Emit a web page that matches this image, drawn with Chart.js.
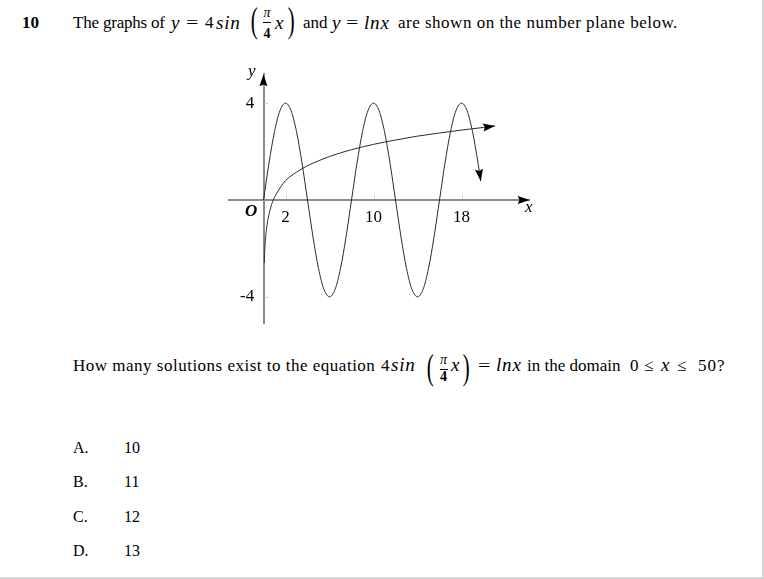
<!DOCTYPE html>
<html><head><meta charset="utf-8">
<script src="https://cdn.jsdelivr.net/npm/chart.js@4.4.1/dist/chart.umd.min.js"></script>
<style>
html,body{margin:0;padding:0;background:#fff;}
#page{position:relative;width:762px;height:577px;border-right:2px solid #d6d6d6;border-bottom:2px solid #d6d6d6;overflow:hidden;font-family:'Liberation Serif','Times New Roman',serif;color:#000;}
#page div{position:absolute;white-space:nowrap;}
.t{font-size:17px;line-height:20px;}
.s{letter-spacing:0.5px;}
.a{font-size:16px;line-height:20px;}
.m{font-size:19px;line-height:20px;font-style:italic;letter-spacing:0.8px;}
.eq{font-size:17px;line-height:20px;transform:scaleX(1.3);transform-origin:0 50%;}
.p{font-size:26px;line-height:26px;transform:scale(0.8,1.35);}
.fn{font-size:14px;line-height:14px;width:12px;text-align:center;font-style:italic;}
.fd{font-size:14px;line-height:14px;width:12px;text-align:center;font-weight:bold;}
.fb{height:1px;width:8px;background:#000;}
#chartBox{left:200px;top:50px;width:360px;height:290px;}
.lbl{font-size:17px;line-height:20px;font-style:italic;}
</style></head>
<body>
<div id="page">
  <!-- header, baseline 29 -->
  <div class="t" style="left:22px;top:13.3px;font-weight:bold;">10</div>
  <div class="t" style="left:73px;top:13.3px;letter-spacing:-0.2px;">The graphs of</div>
  <div class="m" style="left:171px;top:12.6px;">y</div>
  <div class="eq" style="left:186px;top:13.3px;">=</div>
  <div class="t" style="left:205px;top:13.3px;">4</div>
  <div class="m" style="left:216px;top:12.6px;">sin</div>
  <div class="p" style="left:250px;top:8.4px;">(</div>
  <div class="fn" style="left:261px;top:5.7px;">π</div>
  <div class="fb" style="left:263px;top:22px;"></div>
  <div class="fd" style="left:261px;top:26.7px;">4</div>
  <div class="m" style="left:275px;top:12.6px;">x</div>
  <div class="p" style="left:287px;top:8.4px;">)</div>
  <div class="t" style="left:303px;top:13.3px;">and</div>
  <div class="m" style="left:332px;top:12.6px;">y</div>
  <div class="eq" style="left:346px;top:13.3px;">=</div>
  <div class="m" style="left:364px;top:12.6px;">lnx</div>
  <div class="t s" style="left:398px;top:13.3px;">are shown on the number plane below.</div>

  <div id="chartBox"><canvas id="c" width="360" height="290"></canvas></div>
  <div class="lbl" style="left:248px;top:61px;">y</div>
  <div class="lbl" style="left:525px;top:197px;">x</div>
  <div class="lbl" style="left:245px;top:201px;font-weight:bold;">O</div>

  <!-- question, baseline 371.7 -->
  <div class="t s" style="left:73px;top:356px;">How many solutions exist to the equation</div>
  <div class="t" style="left:381px;top:356px;">4</div>
  <div class="m" style="left:391px;top:355.3px;">sin</div>
  <div class="p" style="left:426px;top:354.8px;">(</div>
  <div class="fn" style="left:437.5px;top:353px;">π</div>
  <div class="fb" style="left:439.5px;top:369px;"></div>
  <div class="fd" style="left:437.5px;top:370.4px;">4</div>
  <div class="m" style="left:451px;top:355.3px;">x</div>
  <div class="p" style="left:462px;top:354.8px;">)</div>
  <div class="eq" style="left:478px;top:356px;">=</div>
  <div class="m" style="left:496px;top:355.3px;">lnx</div>
  <div class="t" style="left:527px;top:356px;">in the domain</div>
  <div class="t" style="left:630px;top:356px;">0</div>
  <div class="t" style="left:644px;top:356px;">≤</div>
  <div class="m" style="left:661px;top:355.3px;">x</div>
  <div class="t" style="left:677px;top:356px;">≤</div>
  <div class="t" style="left:698px;top:356px;letter-spacing:1px;">50?</div>

  <div class="a" style="left:73px;top:438px;">A.</div><div class="a" style="left:124px;top:438px;">10</div>
  <div class="a" style="left:73px;top:472px;">B.</div><div class="a" style="left:124px;top:472px;">11</div>
  <div class="a" style="left:73px;top:507px;">C.</div><div class="a" style="left:124px;top:507px;">12</div>
  <div class="a" style="left:73px;top:541px;">D.</div><div class="a" style="left:124px;top:541px;">13</div>
</div>
<script>
// y = 4sin(pi/4 x)
const sineX = [0,0.5,1,1.5,2,2.5,3,3.5,4,4.5,5,5.5,6,6.5,7,7.5,8,8.5,9,9.5,10,10.5,11,11.5,12,12.5,13,13.5,14,14.5,15,15.5,16,16.5,17,17.5,18,18.5,19,19.5,19.75];
const sineY = [0,1.53,2.83,3.7,4,3.7,2.83,1.53,0,-1.53,-2.83,-3.7,-4,-3.7,-2.83,-1.53,0,1.53,2.83,3.7,4,3.7,2.83,1.53,0,-1.53,-2.83,-3.7,-4,-3.7,-2.83,-1.53,0,1.53,2.83,3.7,4,3.7,2.83,1.53,0.78];
// y = ln x
const lnX = [0.07,0.12,0.2,0.35,0.55,0.8,1.1,1.5,2,3,4,5,6,8,10,12,14,16,18,20,21.05];
const lnY = [-2.6,-2.0,-1.5,-0.95,-0.5,-0.1,0.2,0.5,0.8,1.15,1.42,1.62,1.8,2.08,2.3,2.48,2.64,2.77,2.89,3.0,3.06];
const xTickValues = [2, 10, 18];
const yTickValues = [4, -4];
const xAxisRange = [-3.1, 24.2];
const yAxisRange = [-5.1, 5.2];
const yLabelColumn = -0.85; // x-value where the y tick labels end

const toPoints = (xs, ys) => xs.map((v, i) => ({x: v, y: ys[i]}));

function drawArrow(ctx, fx, fy, tx, ty, len, half) {
  const a = Math.atan2(ty - fy, tx - fx);
  const c = Math.cos(a), s = Math.sin(a);
  ctx.beginPath();
  ctx.moveTo(tx, ty);
  ctx.lineTo(tx - len * c + half * s, ty - len * s - half * c);
  ctx.lineTo(tx - len * 0.85 * c, ty - len * 0.85 * s);
  ctx.lineTo(tx - len * c - half * s, ty - len * s + half * c);
  ctx.closePath();
  ctx.fill();
}

const axisDecor = {
  id: 'axisDecor',
  afterDatasetsDraw(chart) {
    const ctx = chart.ctx, sx = chart.scales.x, sy = chart.scales.y;
    const x0 = sx.getPixelForValue(0), y0 = sy.getPixelForValue(0);
    ctx.save();
    ctx.strokeStyle = '#cfcfcf';
    ctx.lineWidth = 1;
    xTickValues.forEach(v => {
      const p = Math.round(sx.getPixelForValue(v)) + 0.5;
      ctx.beginPath(); ctx.moveTo(p, y0 - 5); ctx.lineTo(p, y0 - 1); ctx.stroke();
    });
    yTickValues.forEach(v => {
      const p = Math.round(sy.getPixelForValue(v)) + 0.5;
      ctx.beginPath(); ctx.moveTo(x0 + 1, p); ctx.lineTo(x0 + 5, p); ctx.stroke();
    });
    ctx.fillStyle = '#000';
    drawArrow(ctx, sx.left, y0, sx.right, y0, 12, 4);
    drawArrow(ctx, x0, sy.bottom, x0, sy.top, 12, 4);
    chart.data.datasets.forEach((ds, i) => {
      if (!ds.arrowEnd) return;
      const pts = chart.getDatasetMeta(i).data;
      const a = pts[pts.length - 2], b = pts[pts.length - 1];
      drawArrow(ctx, a.x, a.y, b.x, b.y, 12, 4);
    });
    ctx.restore();
  }
};

const tickFont = {family: "'Liberation Serif', 'Times New Roman', serif", size: 17};

new Chart(document.getElementById('c'), {
  type: 'scatter',
  data: {
    datasets: [
      {data: toPoints(sineX, sineY), showLine: true, borderColor: '#2a2a2a', borderWidth: 1, pointRadius: 0, cubicInterpolationMode: 'monotone', arrowEnd: true},
      {data: toPoints(lnX, lnY), showLine: true, borderColor: '#2a2a2a', borderWidth: 1, pointRadius: 0, cubicInterpolationMode: 'monotone', arrowEnd: true}
    ]
  },
  options: {
    responsive: false,
    animation: false,
    events: [],
    layout: {padding: {left: 29.4, right: 30.3, top: 24.2, bottom: 16.6}},
    plugins: {legend: {display: false}, tooltip: {enabled: false}},
    scales: {
      x: {
        type: 'linear', min: xAxisRange[0], max: xAxisRange[1], position: {y: 0},
        grid: {display: false, drawTicks: false},
        border: {display: true, color: '#8c8c8c', width: 2},
        afterBuildTicks: s => { s.ticks = xTickValues.map(v => ({value: v})); },
        afterFit: s => { s.height = 0; },
        ticks: {autoSkip: false, maxRotation: 0, padding: 7, color: '#000', font: tickFont}
      },
      y: {
        type: 'linear', min: yAxisRange[0], max: yAxisRange[1], position: {x: 0},
        grid: {display: false, drawTicks: false},
        border: {display: true, color: '#8c8c8c', width: 2},
        afterBuildTicks: s => { s.ticks = yTickValues.map(v => ({value: v})); },
        afterFit: s => { s.width = 0; },
        ticks: {display: false}
      },
      yLabels: {
        type: 'linear', min: yAxisRange[0], max: yAxisRange[1], position: {x: yLabelColumn},
        grid: {display: false, drawTicks: false},
        border: {display: false},
        afterBuildTicks: s => { s.ticks = yTickValues.map(v => ({value: v})); },
        afterFit: s => { s.width = 0; },
        ticks: {autoSkip: false, padding: 0, color: '#000', font: tickFont}
      }
    }
  },
  plugins: [axisDecor]
});
</script>
</body></html>
